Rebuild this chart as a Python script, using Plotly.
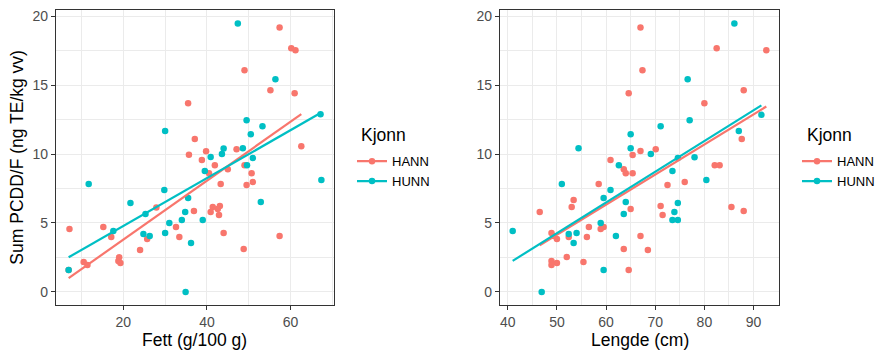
import numpy as np
import plotly.graph_objects as go

W, H = 890, 359

# ---- data: left panel (Fett) ----
fett_hann = [57.4, 60.2, 61.2, 49.0, 55.2, 61.0, 35.5, 37.1, 62.6, 39.8, 47.1, 35.7, 38.8, 41.9, 49.0,
             40.5, 45.0, 50.7, 43.3, 49.5, 51.0, 27.9, 41.4, 43.1, 42.6, 40.9, 36.9, 42.9, 7.1, 15.2,
             32.6, 44.0, 17.1, 25.7, 33.4, 57.4, 24.0, 48.8, 10.5, 11.4, 19.0, 18.8, 19.3, 6.9]
pcdd_hann_fett = [19.2, 17.68, 17.54, 16.09, 14.64, 14.42, 13.70, 11.09, 10.58, 10.2, 10.36, 9.95, 9.57, 9.20, 9.20,
                  8.62, 8.91, 8.62, 7.83, 7.75, 7.97, 6.13, 6.16, 6.23, 6.01, 5.80, 5.87, 5.58, 4.57, 4.71,
                  4.71, 4.28, 3.99, 3.84, 3.99, 4.06, 3.04, 3.12, 2.17, 1.96, 2.51, 2.25, 2.10, 1.59]
fett_hunn = [47.4, 56.4, 49.5, 53.3, 50.5, 48.6, 44.0, 43.6, 40.9, 30.0, 51.0, 49.6, 39.5, 35.5, 52.9, 11.7,
             29.8, 21.7, 25.3, 34.8, 31.0, 34.0, 39.0, 17.6, 24.8, 26.3, 30.0, 36.2, 6.9, 34.9, 67.2, 67.4]
pcdd_hunn_fett = [19.49, 15.43, 12.46, 12.03, 11.45, 10.43, 10.41, 10.0, 9.8, 11.67, 9.71, 9.20, 8.77, 6.81, 6.52, 7.83,
                  7.39, 6.45, 5.65, 5.80, 5.0, 5.22, 5.22, 4.42, 4.20, 4.06, 4.28, 3.55, 1.59, 0.0, 12.9, 8.12]

# ---- data: right panel (Lengde) ----
lengde_hann = [67.0, 82.5, 92.6, 67.4, 88.0, 64.6, 80.0, 87.6, 70.1, 67.0, 65.4, 60.9, 82.1, 83.1, 63.6,
               64.0, 65.4, 76.0, 58.5, 72.5, 53.4, 71.1, 53.0, 85.5, 65.0, 88.0, 46.5, 71.5, 59.5, 56.5,
               58.9, 48.9, 49.3, 67.0, 52.4, 56.1, 50.0, 63.6, 68.5, 52.0, 48.9, 55.4, 50.0, 48.9, 64.6]
pcdd_hann_lengde = [19.2, 17.68, 17.54, 16.09, 14.64, 14.42, 13.70, 11.09, 10.36, 10.22, 9.93, 9.57, 9.20, 9.20, 8.91,
                    8.62, 8.62, 7.97, 7.83, 7.75, 6.67, 6.23, 6.16, 6.16, 6.01, 5.87, 5.80, 5.58, 4.71, 4.71,
                    4.57, 4.28, 4.06, 4.06, 3.99, 3.99, 3.84, 3.12, 3.04, 2.54, 2.25, 2.17, 2.10, 1.96, 1.59]
lengde_hunn = [86.1, 76.6, 91.6, 77.0, 71.1, 87.0, 65.0, 54.4, 65.0, 69.1, 78.0, 74.6, 62.6, 73.5, 80.4, 51.0,
               60.9, 59.5, 64.0, 74.6, 73.9, 63.6, 73.5, 74.6, 58.9, 41.0, 54.0, 52.4, 62.0, 53.4, 59.5, 46.9]
pcdd_hunn_lengde = [19.49, 15.43, 12.85, 12.46, 12.03, 11.67, 11.45, 10.43, 10.43, 10.0, 9.78, 9.71, 9.20, 8.77, 8.12, 7.83,
                    7.39, 6.81, 6.52, 6.45, 5.80, 5.65, 5.22, 5.22, 5.0, 4.42, 4.28, 4.20, 4.06, 3.55, 1.59, 0.0]

groups = ["HANN", "HUNN"]
colors = {"HANN": "#F8766D", "HUNN": "#00BFC4"}
legend_title = "Kjonn"
x_titles = ["Fett (g/100 g)", "Lengde (cm)"]
y_title = "Sum PCDD/F (ng TE/kg vv)"
x_ticks = [[20, 40, 60], [40, 50, 60, 70, 80, 90]]
y_ticks = [0, 5, 10, 15, 20]

panels = [
    {"HANN": (fett_hann, pcdd_hann_fett), "HUNN": (fett_hunn, pcdd_hunn_fett)},
    {"HANN": (lengde_hann, pcdd_hann_lengde), "HUNN": (lengde_hunn, pcdd_hunn_lengde)},
]

FONT = "Liberation Sans, Arial, sans-serif"

def px_x(p):
    return p / W

def px_y(p):
    return 1 - p / H

dom_x = [[px_x(56), px_x(334)], [px_x(500), px_x(779)]]
dom_y = [px_y(305), px_y(8)]

fig = go.Figure()

def expand(vals):
    lo, hi = min(vals), max(vals)
    s = hi - lo
    return [lo - 0.05 * s, hi + 0.05 * s]

all_y = []
for pan in panels:
    for g in groups:
        all_y += list(pan[g][1])

for i, pan in enumerate(panels):
    xa = "x" if i == 0 else "x2"
    ya = "y" if i == 0 else "y2"
    leg = "legend" if i == 0 else "legend2"
    for g in groups:
        xs, ys = pan[g]
        fig.add_trace(go.Scatter(x=xs, y=ys, mode="markers", xaxis=xa, yaxis=ya,
                                 marker=dict(color=colors[g], size=6.5, line=dict(width=0)),
                                 showlegend=False, hoverinfo="skip"))
    for g in groups:
        xs, ys = pan[g]
        b, a = np.polyfit(np.array(xs), np.array(ys), 1)
        xl = np.array([min(xs), max(xs)])
        fig.add_trace(go.Scatter(x=xl, y=a + b * xl, mode="lines", xaxis=xa, yaxis=ya,
                                 line=dict(color=colors[g], width=2.2),
                                 showlegend=False, hoverinfo="skip"))
    for g in groups:
        fig.add_trace(go.Scatter(x=[None], y=[None], mode="lines+markers", xaxis=xa, yaxis=ya,
                                 name=g, legend=leg,
                                 line=dict(color=colors[g], width=2.2),
                                 marker=dict(color=colors[g], size=6.5)))

axis_common = dict(showgrid=True, gridcolor="#EBEBEB", gridwidth=1.1,
                   showline=True, mirror=True, linecolor="#333333", linewidth=1.1,
                   ticks="outside", ticklen=4, tickwidth=1.1, tickcolor="#333333",
                   tickfont=dict(family=FONT, size=14, color="#4D4D4D"),
                   zeroline=False)

xr = [expand(list(panels[i]["HANN"][0]) + list(panels[i]["HUNN"][0])) for i in range(2)]
yr = expand(all_y)

layout = dict(
    width=W, height=H,
    margin=dict(l=0, r=0, t=0, b=0),
    paper_bgcolor="white", plot_bgcolor="white",
    font=dict(family=FONT, color="black"),
    xaxis=dict(domain=dom_x[0], anchor="y", range=xr[0], tickvals=x_ticks[0],
               minor=dict(showgrid=True, gridcolor="#EBEBEB", gridwidth=0.6, dtick=10, tick0=0, ticks=""),
               **axis_common),
    yaxis=dict(domain=dom_y, anchor="x", range=yr, tickvals=y_ticks,
               minor=dict(showgrid=True, gridcolor="#EBEBEB", gridwidth=0.6, dtick=2.5, tick0=0, ticks=""),
               **axis_common),
    xaxis2=dict(domain=dom_x[1], anchor="y2", range=xr[1], tickvals=x_ticks[1],
                minor=dict(showgrid=True, gridcolor="#EBEBEB", gridwidth=0.6, dtick=5, tick0=0, ticks=""),
                **axis_common),
    yaxis2=dict(domain=dom_y, anchor="x2", range=yr, tickvals=y_ticks,
                minor=dict(showgrid=True, gridcolor="#EBEBEB", gridwidth=0.6, dtick=2.5, tick0=0, ticks=""),
                **axis_common),
)

leg_common = dict(xanchor="left", yanchor="top", bgcolor="rgba(0,0,0,0)",
                  font=dict(family=FONT, size=13, color="black"),
                  itemwidth=30, tracegroupgap=0)
layout["legend"] = dict(x=px_x(352), y=px_y(145), **leg_common)
layout["legend2"] = dict(x=px_x(797), y=px_y(145), **leg_common)

ann = []
for i in range(2):
    ann.append(dict(text=x_titles[i], xref="paper", yref="paper",
                    x=(dom_x[i][0] + dom_x[i][1]) / 2, y=px_y(340),
                    xanchor="center", yanchor="middle", showarrow=False,
                    font=dict(family=FONT, size=17.5, color="black")))
ann.append(dict(text=y_title, xref="paper", yref="paper", x=px_x(17), y=(dom_y[0] + dom_y[1]) / 2,
                xanchor="center", yanchor="middle", showarrow=False, textangle=-90,
                font=dict(family=FONT, size=17.5, color="black")))
for lx in (359, 805):
    ann.append(dict(text=legend_title, xref="paper", yref="paper", x=px_x(lx), y=px_y(134),
                    xanchor="left", yanchor="middle", showarrow=False,
                    font=dict(family=FONT, size=17.5, color="black")))
layout["annotations"] = ann

fig.update_layout(**layout)
fig.write_html("out.html", config={"displayModeBar": False},
               post_script="document.body.style.margin='0';")
